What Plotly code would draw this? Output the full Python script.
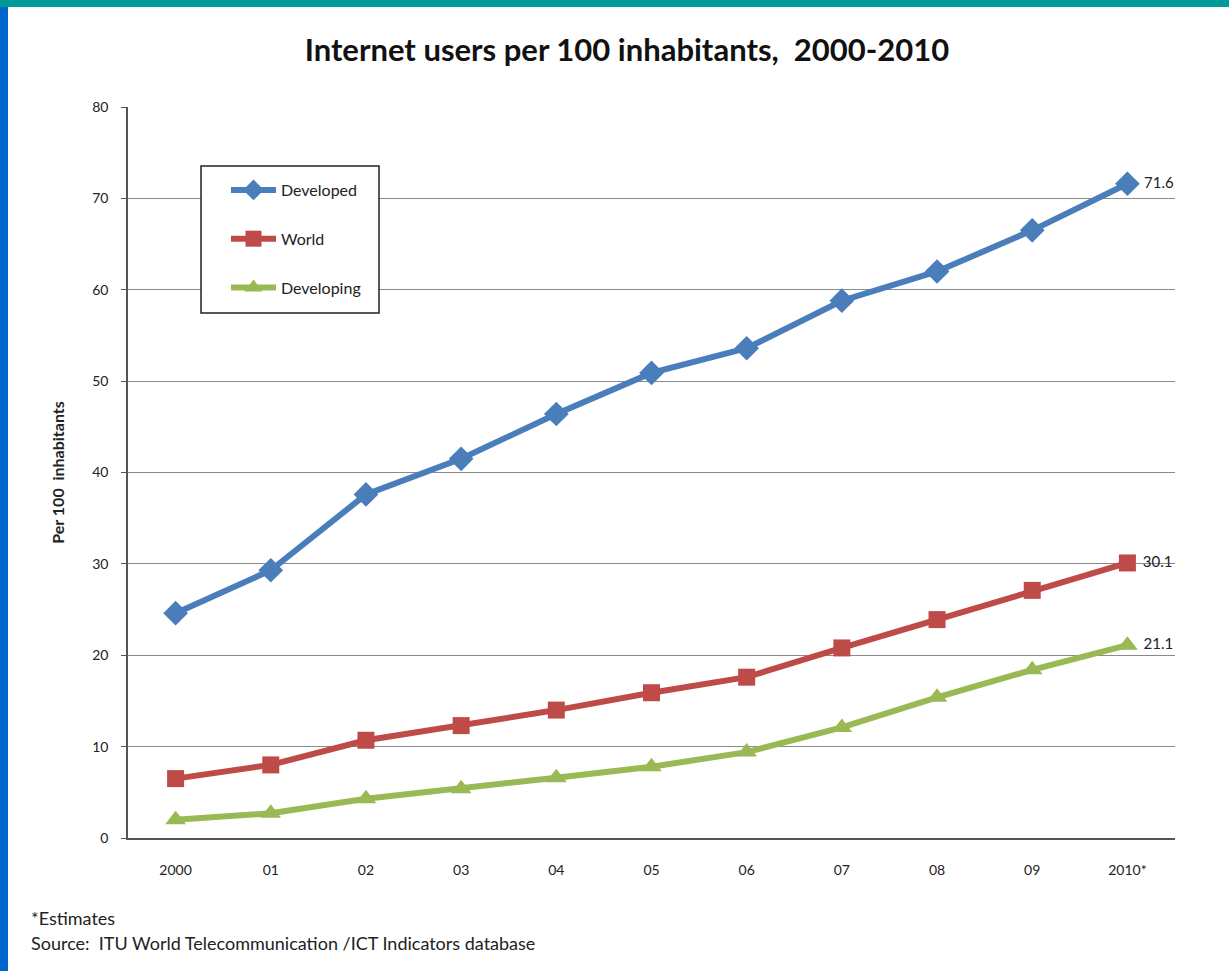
import plotly.graph_objects as go

categories = ["2000", "01", "02", "03", "04", "05", "06", "07", "08", "09", "2010*"]
developed = [24.6, 29.3, 37.6, 41.5, 46.4, 50.9, 53.6, 58.8, 62.0, 66.5, 71.6]
world = [6.5, 8.0, 10.7, 12.3, 14.0, 15.9, 17.6, 20.8, 23.9, 27.1, 30.1]
developing = [2.0, 2.7, 4.3, 5.4, 6.6, 7.8, 9.4, 12.1, 15.4, 18.4, 21.1]
y_ticks = [0, 10, 20, 30, 40, 50, 60, 70, 80]

W, H = 1229, 971
L, R, T, B = 128, 1175, 107, 838
FONT = "Lato, 'Open Sans', sans-serif"


def px(x):
    return (x - L) / (R - L)


def py(y):
    return (B - y) / (B - T)


def last_label(vals):
    return [""] * (len(vals) - 1) + [f"\u00a0{vals[-1]:.1f}"]


series = [
    ("Developed", developed, "#4A7EBB", "diamond", 19),
    ("World", world, "#BE4B48", "square", 17),
    ("Developing", developing, "#98B954", "triangle-up", 18),
]

fig = go.Figure()
for name, vals, color, sym, size in series:
    fig.add_trace(go.Scatter(
        x=categories, y=vals, name=name, mode="lines+markers+text",
        line=dict(color=color, width=6),
        marker=dict(symbol=sym, size=size, color=color),
        text=last_label(vals), textposition="middle right",
        textfont=dict(family=FONT, size=15, color="#222222"),
        legendgroup=name, cliponaxis=False,
    ))

fig.update_layout(
    width=W, height=H,
    margin=dict(l=L, r=W - R, t=T, b=H - B, autoexpand=False),
    paper_bgcolor="white", plot_bgcolor="white",
    font=dict(family=FONT, size=14, color="#222222"),
    title=dict(text="<b>Internet users per 100 inhabitants,  2000-2010</b>",
               x=627 / W, xanchor="center", y=1 - 50 / H, yanchor="middle",
               font=dict(size=31, color="#111111")),
    showlegend=True,
    legend=dict(x=px(226), y=py(173), xanchor="left", yanchor="top",
                bgcolor="rgba(0,0,0,0)", borderwidth=0,
                tracegroupgap=25, itemwidth=45, entrywidth=110,
                font=dict(size=16, color="#222222")),
    xaxis=dict(type="category", range=[-0.5, 10.5], showgrid=False,
               showline=True, linecolor="#555555", linewidth=1.5,
               ticks="", tickfont=dict(size=14), ticklabelstandoff=18),
    yaxis=dict(range=[0, 80], tickvals=y_ticks, showgrid=True,
               gridcolor="#8a8a8a", gridwidth=1, zeroline=False,
               showline=True, linecolor="#555555", linewidth=1.5,
               ticks="outside", ticklen=5, tickcolor="#555555",
               tickfont=dict(size=14), ticklabelstandoff=10,
               title=dict(text="<b>Per 100  inhabitants</b>", font=dict(size=16),
                          standoff=24)),
    shapes=[
        dict(type="rect", xref="paper", yref="paper",
             x0=px(201), x1=px(379), y0=py(313), y1=py(166),
             fillcolor="white", line=dict(color="#222222", width=1.5),
             layer="above"),
        dict(type="rect", xref="paper", yref="paper",
             x0=px(0), x1=px(W), y0=py(7), y1=py(0),
             fillcolor="#009999", line=dict(width=0), layer="above"),
        dict(type="rect", xref="paper", yref="paper",
             x0=px(0), x1=px(8), y0=py(H), y1=py(7),
             fillcolor="#0066CC", line=dict(width=0), layer="above"),
    ],
    annotations=[
        dict(text="*Estimates", xref="paper", yref="paper",
             x=px(29), y=py(918), xanchor="left", yanchor="middle",
             showarrow=False, font=dict(size=18, color="#222222")),
        dict(text="Source:  ITU World Telecommunication /ICT Indicators database",
             xref="paper", yref="paper", x=px(29), y=py(943),
             xanchor="left", yanchor="middle", showarrow=False,
             font=dict(size=18, color="#222222")),
    ],
)

fig.write_html("out.html")
